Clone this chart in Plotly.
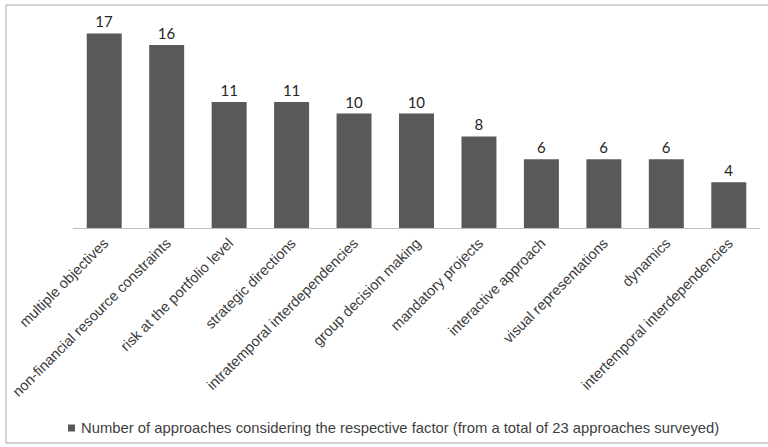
import plotly.graph_objects as go

factors = [
    "multiple objectives",
    "non-financial resource constraints",
    "risk at the portfolio level",
    "strategic directions",
    "intratemporal interdependencies",
    "group decision making",
    "mandatory projects",
    "interactive approach",
    "visual representations",
    "dynamics",
    "intertemporal interdependencies",
]
approach_counts = [17, 16, 11, 11, 10, 10, 8, 6, 6, 6, 4]
series_name = "Number of approaches considering the respective factor (from a total of 23 approaches surveyed)"

BAR_COLOR = "#595959"

# plot area in pixels (left, right, baseline, top)
PL, PR, PB, PT = 73, 760, 228, 22


def px_x(px):
    return (px - PL) / (PR - PL)


def px_y(py):
    return (PB - py) / (PB - PT)


fig = go.Figure(
    go.Bar(
        x=factors,
        y=approach_counts,
        name=series_name,
        marker=dict(color=BAR_COLOR, line=dict(width=0)),
        text=[str(v) for v in approach_counts],
        textposition="outside",
        textfont=dict(family="Lato, Open Sans, sans-serif", size=15, color="#262626"),
        cliponaxis=False,
        showlegend=False,
    )
)

# series key below the chart: small square swatch followed by the series name
fig.add_annotation(
    xref="paper",
    yref="paper",
    x=px_x(79),
    y=px_y(428),
    xanchor="left",
    yanchor="middle",
    showarrow=False,
    text=series_name,
    font=dict(family="Liberation Sans, Arial, sans-serif", size=14.8, color="#404040"),
)

fig.update_layout(
    width=768,
    height=447,
    margin=dict(l=PL, r=768 - PR, t=PT, b=447 - PB),
    paper_bgcolor="white",
    plot_bgcolor="white",
    bargap=0.44,
    font=dict(family="Liberation Sans, Arial, sans-serif", color="#404040"),
    xaxis=dict(
        tickangle=-45,
        tickfont=dict(size=14.5, color="#3a3a3a"),
        showline=True,
        linecolor="#bfbfbf",
        linewidth=1,
        ticks="",
        showgrid=False,
    ),
    yaxis=dict(range=[0, 18], visible=False),
    showlegend=False,
    shapes=[
        dict(
            type="rect",
            xref="paper",
            yref="paper",
            x0=px_x(6),
            x1=px_x(772),
            y0=px_y(443),
            y1=px_y(5),
            line=dict(color="#a6a6a6", width=1),
            layer="below",
        ),
        dict(
            type="rect",
            xref="paper",
            yref="paper",
            x0=px_x(68),
            x1=px_x(75),
            y0=px_y(431.5),
            y1=px_y(424.5),
            fillcolor=BAR_COLOR,
            line=dict(width=0),
        ),
    ],
)

fig.write_html("out.html")
